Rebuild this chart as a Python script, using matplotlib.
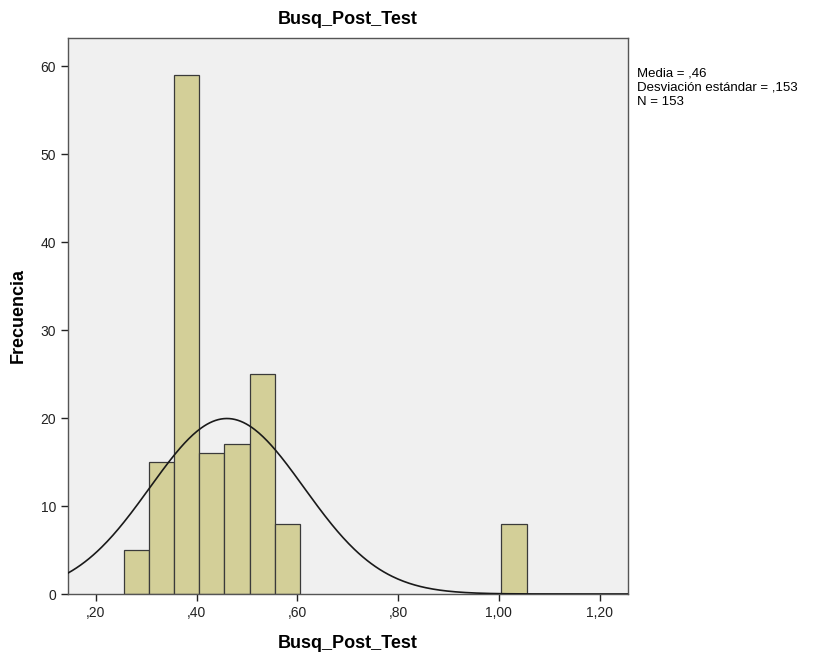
import numpy as np
import matplotlib
matplotlib.use("Agg")
from matplotlib import pyplot as plt

plt.rcParams['font.family'] = ['Liberation Sans', 'DejaVu Sans']

# histograma de Busq_Post_Test
bin_edges = [0.255, 0.305, 0.355, 0.405, 0.455, 0.505, 0.555, 1.005]
counts = [5, 15, 59, 16, 17, 25, 8, 8]
bin_width = 0.05
media = 0.46
desv = 0.153
n = 153
xticks = [0.2, 0.4, 0.6, 0.8, 1.0, 1.2]
xtick_labels = [",20", ",40", ",60", ",80", "1,00", "1,20"]
yticks = [0, 10, 20, 30, 40, 50, 60]

fig = plt.figure(figsize=(8.22, 6.57), dpi=100)
ax = fig.add_axes([68/822, 1-594/657, 560/822, 556/657])
ax.set_facecolor("#f0f0f0")

ax.bar(bin_edges, counts, width=bin_width, align="edge",
       color="#d3cf98", edgecolor="#3a3a3a", linewidth=0.9, zorder=2)

xs = np.linspace(0.1445, 1.2563, 400)
ys = n * bin_width / (desv * np.sqrt(2*np.pi)) * np.exp(-0.5*((xs-media)/desv)**2)
ax.plot(xs, ys, color="#1a1a1a", linewidth=1.2, zorder=3)

ax.set_xlim(0.1445, 1.2563)
ax.set_ylim(0, 63.2)
ax.set_xticks(xticks)
ax.set_xticklabels(xtick_labels)
ax.set_yticks(yticks)
ax.tick_params(direction="out", length=5, width=1, labelsize=10, colors="#222222")
for s in ax.spines.values():
    s.set_color("#555555")
    s.set_linewidth(1)

ax.set_title("Busq_Post_Test", fontsize=13, fontweight="bold", pad=10)
ax.set_xlabel("Busq_Post_Test", fontsize=13, fontweight="bold")
ax.set_ylabel("Frecuencia", fontsize=13, fontweight="bold")
ax.xaxis.set_label_coords(0.5, (594-643)/556, transform=ax.transAxes)
ax.yaxis.set_label_coords((18-68)/560, 0.5, transform=ax.transAxes)
ax.xaxis.label.set_va("center")
ax.yaxis.label.set_va("center")

fig.text(637/822, 1-68/657, "Media = ,46\nDesviación estándar = ,153\nN = 153",
         fontsize=9.5, va="top", ha="left", linespacing=1.2)

fig.savefig("out.png", dpi=100)
